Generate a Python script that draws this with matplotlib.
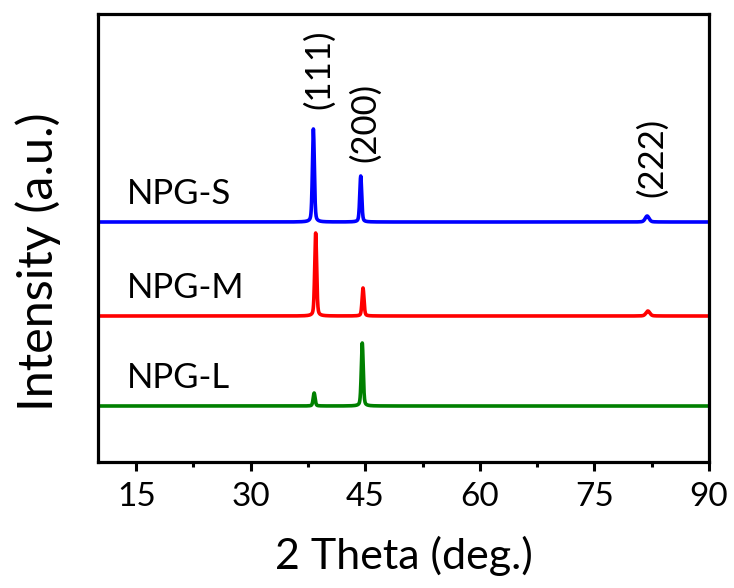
import numpy as np
import matplotlib
matplotlib.use("Agg")
import matplotlib.pyplot as plt
from matplotlib.ticker import MultipleLocator

plt.rcParams['font.family'] = ['Lato', 'DejaVu Sans']

# ---- data ----
samples = ["NPG-S", "NPG-M", "NPG-L"]
colors = ["#0000ff", "#ff0000", "#008000"]
baselines = [240, 146, 56]                 # vertical offsets (a.u.)
peak_pos = {                               # 2theta positions of (111), (200), (222)
    "NPG-S": [38.2, 44.4, 81.9],
    "NPG-M": [38.5, 44.7, 82.0],
    "NPG-L": [38.3, 44.6, 82.0],
}
peak_height = {
    "NPG-S": [93, 46, 6],
    "NPG-M": [83, 28, 5],
    "NPG-L": [13, 63, 0],
}
peak_fwhm = [0.30, 0.30, 0.6]
hkl_labels = ["(111)", "(200)", "(222)"]
hkl_label_x = [38.9, 45.0, 82.6]
hkl_label_y = [393, 340, 305]

two_theta = np.arange(10, 90.001, 0.02)


def profile(x, centers, heights, widths):
    y = np.zeros_like(x)
    for c, h, w in zip(centers, heights, widths):
        g = 0.5 * w
        lor = g**2 / ((x - c) ** 2 + g**2)
        gau = np.exp(-4 * np.log(2) * ((x - c) / w) ** 2)
        y += h * (0.35 * lor + 0.65 * gau)
    return y


fig = plt.figure(figsize=(7.34, 5.88), dpi=100)
ax = fig.add_axes([98 / 734, 1 - 462 / 588, (709 - 98) / 734, (462 - 14) / 588])

for name, col, base in zip(samples, colors, baselines):
    y = base + profile(two_theta, peak_pos[name], peak_height[name], peak_fwhm)
    ax.plot(two_theta, y, color=col, lw=2.6, solid_joinstyle='round')

label_x = [13.8, 13.8, 13.8]
for name, base, lx in zip(samples, baselines, label_x):
    ax.text(lx, base + 12, name, fontsize=25, ha='left', va='bottom')

for lab, lx, ly in zip(hkl_labels, hkl_label_x, hkl_label_y):
    ax.text(lx, ly, lab, fontsize=25, rotation=90, ha='center', va='center')

ax.set_xlim(10, 90)
ax.set_ylim(0, 448)
ax.xaxis.set_minor_locator(MultipleLocator(7.5))
ax.set_xticks([15, 30, 45, 60, 75, 90])
ax.set_yticks([])
ax.tick_params(axis='x', which='major', direction='out', length=6.5, width=2.2,
               labelsize=24, pad=8, top=False)
ax.tick_params(axis='x', which='minor', direction='out', length=3.5, width=2.2, top=False)
for s in ax.spines.values():
    s.set_linewidth(2.3)

ax.set_xlabel("2 Theta (deg.)", fontsize=31, labelpad=17)
fig.text(38 / 734, 1 - 262 / 588, "Intensity (a.u.)", fontsize=35, rotation=90,
         ha='center', va='center')

fig.savefig("out.png", dpi=100)
